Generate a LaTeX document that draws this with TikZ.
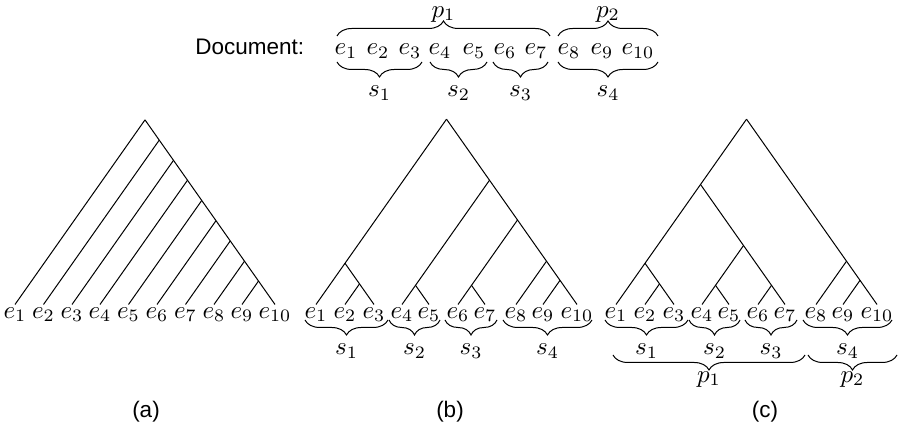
\documentclass[tikz,border=0pt]{standalone}
\usepackage{amsmath}
\usepackage{fontspec}
\newfontfamily\helvfont{Liberation Sans}
\usetikzlibrary{decorations.pathreplacing}

\begin{document}
\begin{tikzpicture}[scale=0.703,
  leaf/.style={anchor=north, inner sep=1pt},
  word/.style={anchor=base, inner sep=1pt},
  brc/.style={decorate, decoration={brace, amplitude=6pt}},
  brcm/.style={decorate, decoration={brace, mirror, amplitude=6pt}},
  lbl/.style={font=\helvfont\small}]
\useasboundingbox (0,0) rectangle (17.98,8.64);

% document with its segments
\node[lbl, anchor=base east] (doc) at (6.26,7.54) {Document:};
\node[word] (d1) at (6.92,7.54) {$e_1$};
\node[word] (d2) at (7.56,7.54) {$e_2$};
\node[word] (d3) at (8.20,7.54) {$e_3$};
\node[word] (d4) at (8.80,7.54) {$e_4$};
\node[word] (d5) at (9.48,7.54) {$e_5$};
\node[word] (d6) at (10.10,7.54) {$e_6$};
\node[word] (d7) at (10.72,7.54) {$e_7$};
\node[word] (d8) at (11.38,7.54) {$e_8$};
\node[word] (d9) at (12.04,7.54) {$e_9$};
\node[word] (d10) at (12.76,7.54) {$e_{10}$};
\draw[brc] (6.74,7.92) -- (11.00,7.92) node[midway, above=4.4pt, inner sep=1pt] (dp1) {$p_1$};
\draw[brc] (11.16,7.92) -- (13.16,7.92) node[midway, above=4.4pt, inner sep=1pt] (dp2) {$p_2$};
\draw[brcm] (6.74,7.40) -- (8.44,7.40) node[midway, below=6pt] (ds1) {$s_1$};
\draw[brcm] (8.60,7.40) -- (9.74,7.40) node[midway, below=6pt] (ds2) {$s_2$};
\draw[brcm] (9.86,7.40) -- (10.96,7.40) node[midway, below=6pt] (ds3) {$s_3$};
\draw[brcm] (11.16,7.40) -- (13.16,7.40) node[midway, below=6pt] (ds4) {$s_4$};

% (a) right-branching tree
\node[leaf] (a1) at (0.30,2.55) {$e_1$};
\node[leaf] (a2) at (0.87,2.55) {$e_2$};
\node[leaf] (a3) at (1.44,2.55) {$e_3$};
\node[leaf] (a4) at (2.00,2.55) {$e_4$};
\node[leaf] (a5) at (2.57,2.55) {$e_5$};
\node[leaf] (a6) at (3.14,2.55) {$e_6$};
\node[leaf] (a7) at (3.71,2.55) {$e_7$};
\node[leaf] (a8) at (4.28,2.55) {$e_8$};
\node[leaf] (a9) at (4.84,2.55) {$e_9$};
\node[leaf] (a10) at (5.50,2.55) {$e_{10}$};
\coordinate (ra) at (2.90,6.242);
\coordinate (ua2) at (3.185,5.837);
\coordinate (ua3) at (3.47,5.433);
\coordinate (ua4) at (3.75,5.035);
\coordinate (ua5) at (4.035,4.630);
\coordinate (ua6) at (4.32,4.226);
\coordinate (ua7) at (4.605,3.821);
\coordinate (ua8) at (4.89,3.416);
\coordinate (ua9) at (5.17,3.019);
\draw (ra) -- (ua2) -- (ua3) -- (ua4) -- (ua5) -- (ua6) -- (ua7) -- (ua8) -- (ua9) -- (a10.north);
\draw (ra) -- (a1.north);
\draw (ua2) -- (a2.north);
\draw (ua3) -- (a3.north);
\draw (ua4) -- (a4.north);
\draw (ua5) -- (a5.north);
\draw (ua6) -- (a6.north);
\draw (ua7) -- (a7.north);
\draw (ua8) -- (a8.north);
\draw (ua9) -- (a9.north);
\node[lbl] (la) at (2.92,0.40) {(a)};

% (b) tree over segments
\node[leaf] (b1) at (6.32,2.55) {$e_1$};
\node[leaf] (b2) at (6.90,2.55) {$e_2$};
\node[leaf] (b3) at (7.48,2.55) {$e_3$};
\node[leaf] (b4) at (8.04,2.55) {$e_4$};
\node[leaf] (b5) at (8.58,2.55) {$e_5$};
\node[leaf] (b6) at (9.16,2.55) {$e_6$};
\node[leaf] (b7) at (9.70,2.55) {$e_7$};
\node[leaf] (b8) at (10.32,2.55) {$e_8$};
\node[leaf] (b9) at (10.86,2.55) {$e_9$};
\node[leaf] (b10) at (11.54,2.55) {$e_{10}$};
\coordinate (rb) at (8.93,6.256);
\coordinate (ub13) at (6.90,3.374);
\coordinate (ub23) at (7.19,2.962);
\coordinate (ub410) at (9.79,5.035);
\coordinate (ub45) at (8.31,2.933);
\coordinate (ub610) at (10.35,4.240);
\coordinate (ub67) at (9.43,2.933);
\coordinate (ub810) at (10.93,3.416);
\coordinate (ub910) at (11.20,3.033);
\draw (rb) -- (ub13) -- (b1.north);
\draw (ub13) -- (ub23) -- (b3.north);
\draw (ub23) -- (b2.north);
\draw (rb) -- (ub410) -- (ub610) -- (ub810) -- (ub910) -- (b10.north);
\draw (ub410) -- (ub45) -- (b4.north);
\draw (ub45) -- (b5.north);
\draw (ub610) -- (ub67) -- (b6.north);
\draw (ub67) -- (b7.north);
\draw (ub810) -- (b8.north);
\draw (ub910) -- (b9.north);
\draw[brcm] (6.10,2.24) -- (7.76,2.24) node[midway, below=6pt] (bs1) {$s_1$};
\draw[brcm] (7.78,2.24) -- (8.80,2.24) node[midway, below=6pt] (bs2) {$s_2$};
\draw[brcm] (8.90,2.24) -- (9.94,2.24) node[midway, below=6pt] (bs3) {$s_3$};
\draw[brcm] (10.06,2.24) -- (11.84,2.24) node[midway, below=6pt] (bs4) {$s_4$};
\node[lbl] (lb) at (9.00,0.40) {(b)};

% (c) tree over segments and paragraphs
\node[leaf] (c1) at (12.32,2.55) {$e_1$};
\node[leaf] (c2) at (12.90,2.55) {$e_2$};
\node[leaf] (c3) at (13.48,2.55) {$e_3$};
\node[leaf] (c4) at (14.04,2.55) {$e_4$};
\node[leaf] (c5) at (14.58,2.55) {$e_5$};
\node[leaf] (c6) at (15.16,2.55) {$e_6$};
\node[leaf] (c7) at (15.70,2.55) {$e_7$};
\node[leaf] (c8) at (16.32,2.55) {$e_8$};
\node[leaf] (c9) at (16.86,2.55) {$e_9$};
\node[leaf] (c10) at (17.54,2.55) {$e_{10}$};
\coordinate (rc) at (14.93,6.256);
\coordinate (uc17) at (14.01,4.950);
\coordinate (uc13) at (12.90,3.374);
\coordinate (uc23) at (13.19,2.962);
\coordinate (uc47) at (14.87,3.729);
\coordinate (uc45) at (14.31,2.933);
\coordinate (uc67) at (15.43,2.933);
\coordinate (uc810) at (16.93,3.416);
\coordinate (uc910) at (17.20,3.033);
\draw (rc) -- (uc17) -- (uc13) -- (c1.north);
\draw (uc13) -- (uc23) -- (c3.north);
\draw (uc23) -- (c2.north);
\draw (uc17) -- (uc47) -- (uc67) -- (c7.north);
\draw (uc47) -- (uc45) -- (c4.north);
\draw (uc45) -- (c5.north);
\draw (uc67) -- (c6.north);
\draw (rc) -- (uc810) -- (uc910) -- (c10.north);
\draw (uc810) -- (c8.north);
\draw (uc910) -- (c9.north);
\draw[brcm] (12.10,2.24) -- (13.76,2.24) node[midway, below=6pt] (cs1) {$s_1$};
\draw[brcm] (13.78,2.24) -- (14.80,2.24) node[midway, below=6pt] (cs2) {$s_2$};
\draw[brcm] (14.90,2.24) -- (15.94,2.24) node[midway, below=6pt] (cs3) {$s_3$};
\draw[brcm] (16.06,2.24) -- (17.84,2.24) node[midway, below=6pt] (cs4) {$s_4$};
\draw[brcm] (12.26,1.54) -- (16.10,1.54) node[midway, below=3pt] (cp1) {$p_1$};
\draw[brcm] (16.16,1.54) -- (17.94,1.54) node[midway, below=3pt] (cp2) {$p_2$};
\node[lbl] (lc) at (15.30,0.40) {(c)};
\end{tikzpicture}
\end{document}
